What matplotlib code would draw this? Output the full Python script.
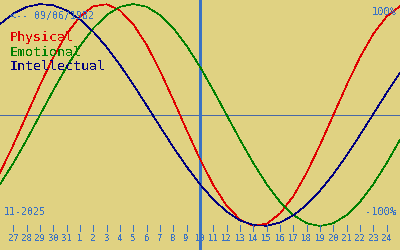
import matplotlib
matplotlib.use('Agg')
import matplotlib.pyplot as plt

# day offsets relative to the first labelled day (Oct 27); -1 and 29 are edge days
days = list(range(-1, 30))
tick_days = list(range(0, 29))
tick_labels = ['27', '28', '29', '30', '31'] + [str(d) for d in range(1, 25)]
today = 14  # Nov 10

physical = [-0.520, -0.270, 0.000, 0.270, 0.520, 0.731, 0.888, 0.979, 0.998, 0.942,
            0.817, 0.631, 0.398, 0.136, -0.136, -0.398, -0.631, -0.817, -0.942, -0.998,
            -0.979, -0.888, -0.731, -0.520, -0.270, 0.000, 0.270, 0.520, 0.731, 0.888, 0.979]
emotional = [-0.623, -0.434, -0.223, 0.000, 0.223, 0.434, 0.623, 0.782, 0.901, 0.975,
             1.000, 0.975, 0.901, 0.782, 0.623, 0.434, 0.223, 0.000, -0.223, -0.434,
             -0.623, -0.782, -0.901, -0.975, -1.000, -0.975, -0.901, -0.782, -0.623, -0.434, -0.223]
intellectual = [0.820, 0.913, 0.974, 0.999, 0.988, 0.942, 0.861, 0.750, 0.611, 0.450,
                0.273, 0.086, -0.104, -0.290, -0.466, -0.625, -0.761, -0.870, -0.949, -0.992,
                -0.998, -0.969, -0.904, -0.808, -0.682, -0.533, -0.364, -0.180, 0.010, 0.199, 0.380]

bg = '#e0d282'
blue = '#3a72c4'
plt.rcParams['text.antialiased'] = False
plt.rcParams['lines.antialiased'] = False
mono = 'DejaVu Sans Mono'

fig = plt.figure(figsize=(4, 2.5), dpi=100)
fig.patch.set_facecolor(bg)
ax = fig.add_axes([0, 0, 1, 1])
ax.set_facecolor(bg)
ax.set_xlim(-1, 29)
ax.set_ylim(-1.216, 1.036)
ax.axis('off')

# axes lines
ax.axhline(0, color='#4868a8', lw=0.45)
ax.axvline(today, color=blue, lw=1.0)

ax.plot(days, physical, color='#e00000', lw=0.45)
ax.plot(days, emotional, color='#008000', lw=0.45)
ax.plot(days, intellectual, color='#000080', lw=0.45)

# day ticks
ax.vlines(tick_days, -1.045, -0.99, color=blue, lw=0.45)
for d, lab in zip(tick_days, tick_labels):
    ax.text(d, -1.108, lab, color=blue, fontsize=6.5, family=mono,
            ha='center', va='center')

tr = ax.transAxes
ax.text(10 / 400, 1 - 16 / 250, '<-- 09/06/1982', transform=tr, color=blue,
        fontsize=7.2, family=mono, va='center')
ax.text(10 / 400, 1 - 37 / 250, 'Physical', transform=tr, color='#e00000',
        fontsize=9.6, family=mono, va='center')
ax.text(10 / 400, 1 - 52 / 250, 'Emotional', transform=tr, color='#008000',
        fontsize=9.6, family=mono, va='center')
ax.text(10 / 400, 1 - 67 / 250, 'Intellectual', transform=tr, color='#000080',
        fontsize=9.6, family=mono, va='center')
ax.text(397 / 400, 1 - 12 / 250, '100%', transform=tr, color=blue,
        fontsize=7.5, family=mono, va='center', ha='right')
ax.text(396 / 400, 1 - 212 / 250, '-100%', transform=tr, color=blue,
        fontsize=7.5, family=mono, va='center', ha='right')
ax.text(4 / 400, 1 - 212 / 250, '11-2025', transform=tr, color=blue,
        fontsize=7.2, family=mono, va='center')

fig.savefig('out.png', dpi=100, facecolor=bg)
